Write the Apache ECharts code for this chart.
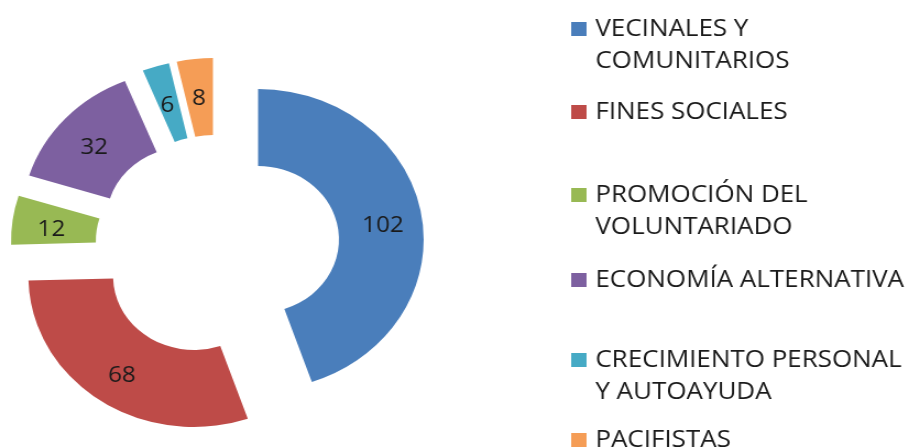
<!DOCTYPE html>
<html><head><meta charset="utf-8">
<script src="https://cdn.jsdelivr.net/npm/echarts@6/dist/echarts.min.js"></script>
<style>
html,body{margin:0;padding:0;background:#fff;overflow:hidden}
#wrap{width:909px;height:448px;overflow:hidden}
#c{width:826px;height:448px;transform:scaleX(1.1005);transform-origin:0 0}
</style>
</head><body><div id="wrap"><div id="c"></div></div>
<script>
var categories = ['VECINALES Y COMUNITARIOS','FINES SOCIALES','PROMOCIÓN DEL VOLUNTARIADO','ECONOMÍA ALTERNATIVA','CRECIMIENTO PERSONAL Y AUTOAYUDA','PACIFISTAS'];
var legendLine1 = ['VECINALES Y','FINES SOCIALES','PROMOCIÓN DEL','ECONOMÍA ALTERNATIVA','CRECIMIENTO PERSONAL','PACIFISTAS'];
var legendLine2 = ['COMUNITARIOS','','VOLUNTARIADO','','Y AUTOAYUDA',''];
var values = [102, 68, 12, 32, 6, 8];
var colors = ['#4A7EBB','#BE4B48','#98B954','#7D60A0','#46AAC5','#F59D56'];
var legendCapCenters = [29, 112, 195, 280, 360, 440];

var FONT = '"Open Sans", sans-serif';
var LINE = 32.3;
var chart = echarts.init(document.getElementById('c'), null, {renderer:'canvas'});
var data = categories.map(function(n,i){
  return {name:n, value:values[i], selected:true, itemStyle:{color:colors[i]}};
});
function mkLegend(i, text, top, hidden){
  return {
    orient:'vertical', left:519, top:top, data:[categories[i]],
    icon:'rect', itemWidth:14, itemHeight:14, itemGap:0, padding:0,
    selectedMode:false,
    itemStyle: hidden ? {opacity:0} : {},
    formatter:function(){return text;},
    textStyle:{fontFamily:FONT, fontSize:23.6, color:'#1a1a1a', lineHeight:32, padding:[0,0,0,3]}
  };
}
var legends = [];
categories.forEach(function(n,i){
  legends.push(mkLegend(i, legendLine1[i], legendCapCenters[i]-16, false));
  if (legendLine2[i]) legends.push(mkLegend(i, legendLine2[i], legendCapCenters[i]-16+LINE, true));
});
chart.setOption({
  animation:false,
  legend: legends,
  series:[{
    type:'pie',
    center:[197.6,245.7],
    radius:[73.5,150.5],
    startAngle:90,
    clockwise:true,
    selectedMode:'multiple',
    selectedOffset:37.4,
    avoidLabelOverlap:false,
    emphasis:{disabled:true},
    label:{show:true, position:'inside', formatter:'{c}', fontFamily:FONT, fontSize:22, color:'#1a1a1a'},
    labelLayout:{dy:5},
    labelLine:{show:false},
    data:data
  }]
});
</script></body></html>
